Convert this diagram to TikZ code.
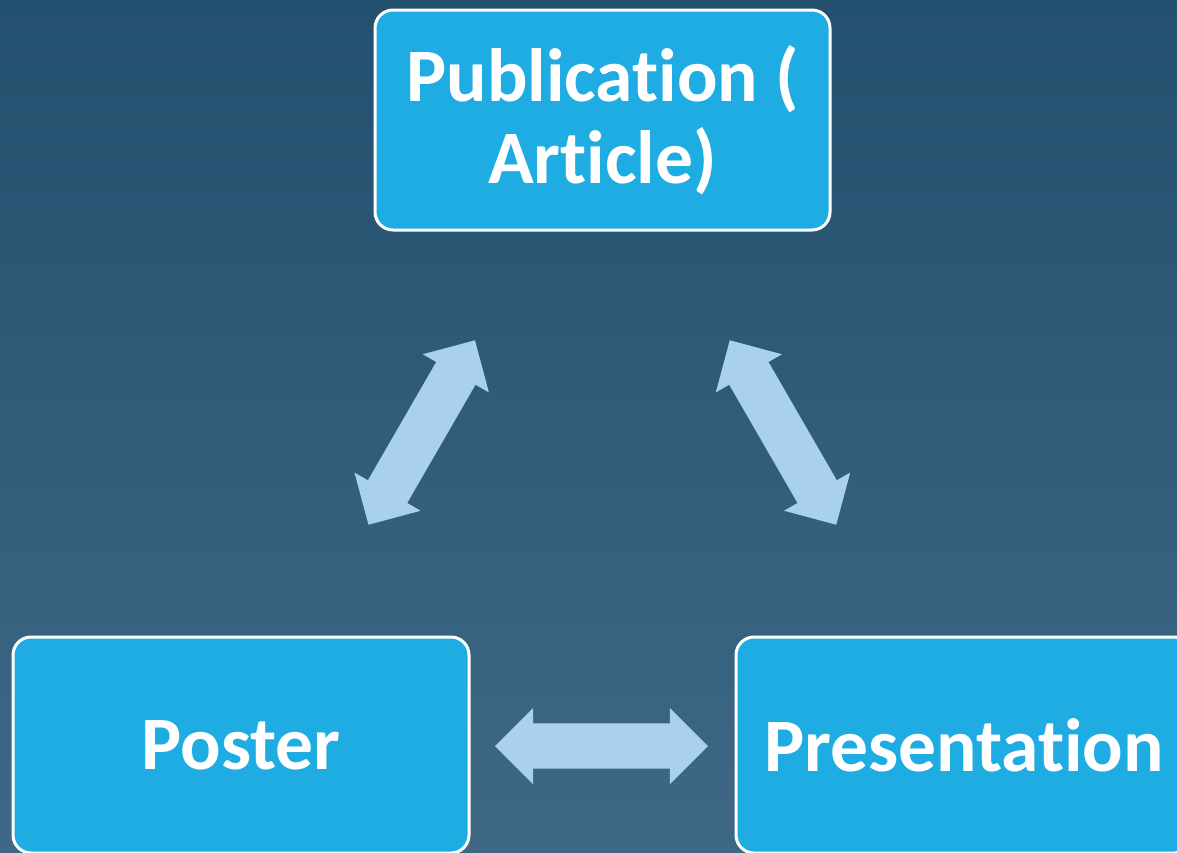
\documentclass[tikz,border=0pt]{standalone}
\usepackage{fontspec}
\setmainfont{Carlito}[Ligatures=CommonOff]
\usetikzlibrary{shapes.arrows}
\definecolor{bgtop}{HTML}{23506E}
\definecolor{bgbot}{HTML}{3E6886}
\definecolor{boxfill}{HTML}{1FACE3}
\definecolor{arrowfill}{HTML}{A9D1EE}
\tikzset{
  box/.style={rectangle, rounded corners=18pt, draw=white, line width=3pt,
    fill=boxfill, text=white, font=\bfseries\fontsize{75.5}{82}\selectfont,
    align=center, inner sep=0pt},
  dblarrow/.style={double arrow, fill=arrowfill, draw=none, inner sep=0pt,
    minimum height=213pt,
    double arrow head extend=15.5pt, double arrow tip angle=90,
    double arrow head indent=0pt}
}
\newcommand{\shaft}{\rule[-22.5pt]{0pt}{45pt}}
\begin{document}
\begin{tikzpicture}[x=1pt,y=-1pt]
\useasboundingbox (0,0) rectangle (1177,852);
\clip (0,0) rectangle (1177,852);
\shade[top color=bgtop, bottom color=bgbot] (0,0) rectangle (1177,852);
\node[box, minimum width=455pt, minimum height=220pt] (pub) at (602.5,120) {Publication (\\Article)};
\node[box, minimum width=456pt, minimum height=216pt] (poster) at (241,745) {Poster};
\node[box, minimum width=456pt, minimum height=216pt] (pres) at (964,745) {Presentation};
\node[dblarrow, rotate=60] (a1) at (421.7,432.5) {\shaft};
\node[dblarrow, rotate=-60] (a2) at (783,432.5) {\shaft};
\node[dblarrow] (a3) at (601.5,746) {\shaft};
\end{tikzpicture}
\end{document}
